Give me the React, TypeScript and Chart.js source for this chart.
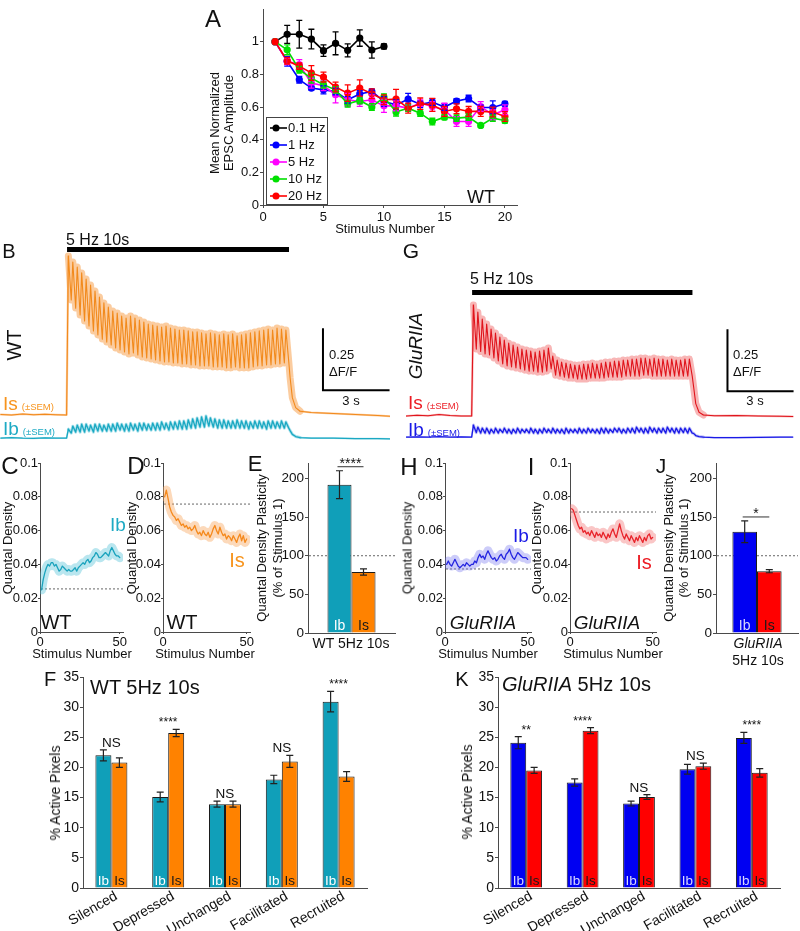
import React, { useEffect, useRef } from "react";
import { Chart, registerables } from "chart.js";

Chart.register(...registerables);

const FONT = '"Liberation Sans", Arial, Helvetica, sans-serif';
Chart.defaults.font.family = FONT;
Chart.defaults.color = "#111";

/* ======================= DATA ======================= */
// Panel A
const aSeriesLabels = ["0.1 Hz", "1 Hz", "5 Hz", "10 Hz", "20 Hz"];
const aXTicks = [0, 5, 10, 15, 20];
const aYTicks = [0, 0.2, 0.4, 0.6, 0.8, 1];
const a01Hz = [1.0, 1.045, 1.045, 1.016, 0.945, 0.99, 0.947, 1.022, 0.949, 0.971];
const a01HzErr = [0, 0.055, 0.085, 0.06, 0.035, 0.07, 0.04, 0.05, 0.05, 0.015];
const a1Hz = [1.0, 0.88, 0.767, 0.716, 0.705, 0.695, 0.644, 0.68, 0.695, 0.634, 0.613, 0.648, 0.617, 0.63, 0.6, 0.636, 0.652, 0.597, 0.597, 0.62];
const a1HzErr = [0, 0.03, 0.02, 0.012, 0.025, 0.02, 0.02, 0.02, 0.015, 0.03, 0.03, 0.035, 0.02, 0.02, 0.02, 0.015, 0.02, 0.015, 0.04, 0.015];
const a5Hz = [1.0, 0.88, 0.86, 0.746, 0.73, 0.675, 0.644, 0.634, 0.644, 0.607, 0.607, 0.593, 0.624, 0.603, 0.583, 0.511, 0.511, 0.603, 0.552, 0.583];
const a5HzErr = [0, 0.02, 0.03, 0.03, 0.03, 0.05, 0.04, 0.03, 0.03, 0.04, 0.03, 0.02, 0.02, 0.03, 0.04, 0.03, 0.03, 0.03, 0.03, 0.03];
const a10Hz = [1.0, 0.95, 0.828, 0.777, 0.736, 0.705, 0.62, 0.64, 0.6, 0.66, 0.57, 0.593, 0.562, 0.511, 0.538, 0.532, 0.538, 0.487, 0.532, 0.517];
const a10HzErr = [0, 0.03, 0.02, 0.03, 0.02, 0.02, 0.02, 0.02, 0.02, 0.02, 0.025, 0.02, 0.02, 0.02, 0.015, 0.02, 0.02, 0.01, 0.02, 0.015];
const a20Hz = [1.0, 0.883, 0.85, 0.808, 0.783, 0.722, 0.685, 0.716, 0.681, 0.644, 0.648, 0.593, 0.62, 0.613, 0.573, 0.589, 0.573, 0.573, 0.569, 0.542];
const a20HzErr = [0, 0.02, 0.02, 0.045, 0.03, 0.03, 0.05, 0.05, 0.03, 0.03, 0.06, 0.03, 0.035, 0.04, 0.03, 0.03, 0.03, 0.03, 0.03, 0.03];

// Panels B & G : ΔF/F traces (5 Hz, 10 s train)
const STIM_HZ = 5;
const stimWindow = [0, 10];
const scaleBarDF = 0.25;
const scaleBarSec = 3;
const preTimes = [-2.98, -2.5, -2.0, -1.5, -1.0, -0.5, -0.02];
const postTimes = [10.05, 10.15, 10.3, 10.5, 11, 12, 13, 14, 14.55];

const wtIsPre = [0.002, 0.0, 0.004, 0.001, 0.003, 0.001, 0.0];
const wtIsPeaks = [0.641, 0.617, 0.597, 0.573, 0.548, 0.524, 0.5, 0.476, 0.452, 0.435, 0.419, 0.411, 0.399, 0.391, 0.399, 0.391, 0.383, 0.375, 0.367, 0.363, 0.359, 0.355, 0.359, 0.351, 0.347, 0.343, 0.343, 0.339, 0.335, 0.335, 0.331, 0.327, 0.331, 0.327, 0.323, 0.327, 0.323, 0.327, 0.319, 0.323, 0.327, 0.331, 0.335, 0.339, 0.343, 0.347, 0.343, 0.351, 0.347, 0.343];
const wtIsTroughs = [0.464, 0.431, 0.403, 0.379, 0.359, 0.339, 0.323, 0.306, 0.294, 0.282, 0.27, 0.262, 0.254, 0.246, 0.25, 0.242, 0.234, 0.23, 0.226, 0.222, 0.218, 0.214, 0.214, 0.21, 0.21, 0.206, 0.206, 0.202, 0.202, 0.198, 0.198, 0.198, 0.194, 0.194, 0.194, 0.19, 0.19, 0.194, 0.19, 0.19, 0.19, 0.194, 0.198, 0.198, 0.202, 0.202, 0.206, 0.206, 0.21, 0.214];
const wtIsPost = [0.15, 0.07, 0.03, 0.015, 0.01, 0.006, 0.002, -0.002, -0.005];

const wtIbPre = [0.0, 0.002, 0.0, -0.001, 0.001, 0.0, 0.0];
const wtIbPeaks = [0.036, 0.048, 0.052, 0.056, 0.056, 0.052, 0.056, 0.056, 0.052, 0.056, 0.056, 0.06, 0.056, 0.056, 0.06, 0.056, 0.06, 0.06, 0.056, 0.06, 0.06, 0.065, 0.06, 0.065, 0.065, 0.069, 0.069, 0.073, 0.077, 0.081, 0.085, 0.089, 0.081, 0.077, 0.073, 0.073, 0.069, 0.069, 0.073, 0.069, 0.069, 0.065, 0.069, 0.069, 0.065, 0.069, 0.069, 0.065, 0.069, 0.065];
const wtIbTroughs = [0.02, 0.024, 0.024, 0.024, 0.028, 0.024, 0.028, 0.028, 0.028, 0.028, 0.028, 0.032, 0.028, 0.028, 0.032, 0.028, 0.032, 0.032, 0.032, 0.032, 0.032, 0.036, 0.032, 0.036, 0.036, 0.036, 0.036, 0.04, 0.04, 0.044, 0.044, 0.048, 0.044, 0.04, 0.04, 0.04, 0.04, 0.04, 0.04, 0.04, 0.036, 0.04, 0.04, 0.04, 0.036, 0.04, 0.04, 0.04, 0.04, 0.04];
const wtIbPost = [0.03, 0.015, 0.006, 0.002, 0.0, 0.0, -0.002, -0.002, -0.003];

const gIsPre = [0.0, 0.003, 0.001, 0.006, 0.002, 0.0, 0.0];
const gIsPeaks = [0.448, 0.419, 0.391, 0.371, 0.351, 0.335, 0.319, 0.306, 0.294, 0.286, 0.278, 0.27, 0.266, 0.262, 0.258, 0.262, 0.266, 0.274, 0.242, 0.226, 0.218, 0.214, 0.21, 0.206, 0.206, 0.21, 0.21, 0.214, 0.21, 0.214, 0.218, 0.218, 0.222, 0.222, 0.226, 0.226, 0.23, 0.23, 0.234, 0.234, 0.23, 0.234, 0.23, 0.23, 0.226, 0.23, 0.226, 0.226, 0.23, 0.23];
const gIsTroughs = [0.27, 0.26, 0.25, 0.246, 0.234, 0.222, 0.21, 0.202, 0.198, 0.194, 0.19, 0.185, 0.181, 0.181, 0.177, 0.177, 0.181, 0.19, 0.165, 0.161, 0.157, 0.153, 0.153, 0.149, 0.149, 0.149, 0.153, 0.153, 0.153, 0.153, 0.157, 0.157, 0.157, 0.157, 0.161, 0.161, 0.161, 0.161, 0.165, 0.165, 0.161, 0.161, 0.161, 0.161, 0.161, 0.161, 0.161, 0.161, 0.161, 0.161];
const gIsPost = [0.12, 0.05, 0.015, 0.004, 0.001, 0.002, 0.0, -0.001, -0.002];

const gIbPre = [0.0, 0.001, 0.0, 0.002, 0.0, 0.001, 0.0];
const gIbPeaks = [0.048, 0.04, 0.036, 0.036, 0.032, 0.036, 0.032, 0.036, 0.032, 0.032, 0.036, 0.032, 0.032, 0.036, 0.032, 0.032, 0.036, 0.032, 0.036, 0.032, 0.032, 0.036, 0.032, 0.032, 0.036, 0.032, 0.036, 0.032, 0.032, 0.036, 0.036, 0.032, 0.036, 0.036, 0.032, 0.036, 0.036, 0.04, 0.036, 0.036, 0.04, 0.036, 0.036, 0.036, 0.04, 0.036, 0.036, 0.036, 0.036, 0.036];
const gIbTroughs = [0.018, 0.016, 0.016, 0.014, 0.016, 0.016, 0.018, 0.016, 0.014, 0.016, 0.016, 0.018, 0.016, 0.016, 0.014, 0.016, 0.018, 0.016, 0.016, 0.016, 0.014, 0.016, 0.018, 0.016, 0.016, 0.016, 0.018, 0.016, 0.014, 0.016, 0.016, 0.018, 0.02, 0.016, 0.016, 0.018, 0.016, 0.02, 0.016, 0.016, 0.02, 0.016, 0.018, 0.016, 0.02, 0.016, 0.016, 0.018, 0.016, 0.016];
const gIbPost = [0.015, 0.006, 0.002, 0.0, -0.002, -0.002, -0.001, 0.0, 0.0];

// Panels C, D, H, I : quantal density per stimulus (stimulus 1..50)
const qdXTicks = [0, 50];
const qdYTicks = [0, 0.02, 0.04, 0.06, 0.08, 0.1];
const qdWtIb = [0.025, 0.031, 0.035, 0.038, 0.04, 0.039, 0.041, 0.041, 0.039, 0.04, 0.038, 0.036, 0.037, 0.039, 0.038, 0.037, 0.036, 0.037, 0.036, 0.036, 0.037, 0.038, 0.036, 0.038, 0.039, 0.04, 0.041, 0.04, 0.042, 0.043, 0.041, 0.042, 0.044, 0.045, 0.047, 0.046, 0.044, 0.044, 0.045, 0.046, 0.047, 0.046, 0.045, 0.048, 0.05, 0.048, 0.046, 0.045, 0.045, 0.044];
const qdWtIs = [0.08, 0.084, 0.079, 0.074, 0.071, 0.069, 0.068, 0.066, 0.067, 0.065, 0.063, 0.064, 0.062, 0.063, 0.061, 0.062, 0.06, 0.061, 0.063, 0.06, 0.058, 0.059, 0.057, 0.06, 0.058, 0.057, 0.059, 0.056, 0.058, 0.061, 0.063, 0.06, 0.058, 0.062, 0.059, 0.057, 0.058, 0.055, 0.057, 0.056, 0.054, 0.057, 0.055, 0.053, 0.056, 0.058, 0.054, 0.057, 0.053, 0.055];
const qdGIb = [0.04, 0.042, 0.04, 0.039, 0.041, 0.043, 0.041, 0.039, 0.038, 0.039, 0.04, 0.039, 0.041, 0.04, 0.039, 0.04, 0.04, 0.042, 0.041, 0.044, 0.046, 0.044, 0.045, 0.043, 0.046, 0.048, 0.046, 0.044, 0.043, 0.044, 0.042, 0.043, 0.045, 0.046, 0.044, 0.043, 0.046, 0.047, 0.049, 0.046, 0.044, 0.043, 0.045, 0.047, 0.046, 0.045, 0.044, 0.044, 0.044, 0.043];
const qdGIs = [0.073, 0.072, 0.069, 0.066, 0.063, 0.061, 0.062, 0.059, 0.06, 0.058, 0.059, 0.057, 0.06, 0.058, 0.056, 0.059, 0.057, 0.058, 0.056, 0.059, 0.057, 0.055, 0.058, 0.056, 0.059, 0.061, 0.058, 0.056, 0.06, 0.064, 0.06, 0.057, 0.055, 0.058, 0.056, 0.054, 0.057, 0.055, 0.053, 0.056, 0.054, 0.057, 0.055, 0.053, 0.056, 0.054, 0.057, 0.058, 0.055, 0.056];
const qdWtIbStim1 = 0.0255;
const qdWtIsStim1 = 0.0757;
const qdGIbStim1 = 0.0373;
const qdGIsStim1 = 0.071;

// Panels E, J : quantal density plasticity (% of stimulus 1)
const plastYTicks = [0, 50, 100, 150, 200];
const plastRef = 100;
const eIb = [192];
const eIbErr = [18];
const eIs = [79];
const eIsErr = [4];
const eSig = "****";
const jIb = [131];
const jIbErr = [14];
const jIs = [80];
const jIsErr = [2];
const jSig = "*";

// Panels F, K : % active pixels
const categories = ["Silenced", "Depressed", "Unchanged", "Facilitated", "Recruited"];
const pixYTicks = [0, 5, 10, 15, 20, 25, 30, 35];
const fIb = [22.0, 15.1, 13.9, 18.0, 30.9];
const fIbErr = [0.9, 0.8, 0.5, 0.7, 1.7];
const fIs = [20.8, 25.7, 13.9, 21.0, 18.5];
const fIsErr = [0.8, 0.6, 0.5, 1.0, 0.8];
const fSig = ["NS", "****", "NS", "NS", "****"];
const kIb = [24.1, 17.5, 14.0, 19.7, 24.9];
const kIbErr = [1.0, 0.6, 0.4, 0.8, 0.9];
const kIs = [19.5, 26.1, 15.1, 20.2, 19.1];
const kIsErr = [0.5, 0.5, 0.4, 0.5, 0.7];
const kSig = ["**", "****", "NS", "NS", "****"];

/* ======================= STYLE ======================= */
const AX = "#4a4a4a";
const aColors = ["#000000", "#0000ff", "#ff00ff", "#00e000", "#ff0000"];
const TEAL = "#109fb9";
const ORANGE = "#ff8200";
const BLUE = "#0000f2";
const RED = "#ff0000";
const TEAL_T = "#1eaac4";
const ORANGE_T = "#f7941d";
const RED_T = "#ec1c24";
const BLUE_T = "#1a1ae6";

/* ======================= HELPERS ======================= */
type Box = [number, number, number, number];
type Area = [number, number, number, number];

function fitScales(box: Box, area: Area) {
  const [bx, by, bw, bh] = box;
  const [L, T, R, B] = area;
  const yW = L - bx;
  const xH = by + bh - B;
  const zero = (s: any) => {
    s.paddingLeft = 0;
    s.paddingRight = 0;
    s.paddingTop = 0;
    s.paddingBottom = 0;
  };
  return {
    padding: { left: 0, top: T - by, right: bx + bw - R, bottom: 0 },
    afterFitY: (s: any) => {
      s.width = yW;
      zero(s);
    },
    afterFitX: (s: any) => {
      s.height = xH;
      zero(s);
    },
  };
}

function linAxis(min: number, max: number, ticks: number[], size: number, afterFit: any, pad = 1, tl = 3) {
  return {
    type: "linear",
    min,
    max,
    border: { display: true, color: AX, width: 1 },
    grid: { display: true, drawOnChartArea: false, drawTicks: true, tickLength: tl, color: AX },
    ticks: { font: { size }, color: "#111", padding: pad, autoSkip: false, maxRotation: 0, callback: (v: any) => String(v) },
    afterBuildTicks: (s: any) => {
      s.ticks = ticks.map((v) => ({ value: v }));
    },
    afterFit,
  };
}

const common = {
  responsive: false,
  maintainAspectRatio: false,
  animation: false,
  devicePixelRatio: 1,
  events: [] as any[],
};
const noLegend = { legend: { display: false }, tooltip: { enabled: false } };

function errBarsPlugin(errs: (number[] | null)[], colors: string[], cap = 6, lw = 1.3) {
  return {
    id: "errBars",
    afterDatasetsDraw(chart: any) {
      const { ctx } = chart;
      ctx.save();
      errs.forEach((err, di) => {
        if (!err) return;
        const meta = chart.getDatasetMeta(di);
        const ys = chart.scales[meta.yAxisID];
        const ds = chart.data.datasets[di];
        ctx.strokeStyle = colors[di];
        ctx.lineWidth = lw;
        meta.data.forEach((el: any, j: number) => {
          const raw = ds.data[j];
          const v = typeof raw === "number" ? raw : raw.y;
          const e = err[j];
          if (!e) return;
          const y1 = ys.getPixelForValue(v + e);
          const y2 = ys.getPixelForValue(v - e);
          const x = el.x;
          ctx.beginPath();
          ctx.moveTo(x, y1);
          ctx.lineTo(x, y2);
          ctx.moveTo(x - cap / 2, y1);
          ctx.lineTo(x + cap / 2, y1);
          ctx.moveTo(x - cap / 2, y2);
          ctx.lineTo(x + cap / 2, y2);
          ctx.stroke();
        });
      });
      ctx.restore();
    },
  };
}

function refLinePlugin(value: number) {
  return {
    id: "refLine",
    beforeDatasetsDraw(chart: any) {
      const { ctx, chartArea } = chart;
      const y = chart.scales.y.getPixelForValue(value);
      ctx.save();
      ctx.setLineDash([2, 2]);
      ctx.strokeStyle = "#666";
      ctx.lineWidth = 1;
      ctx.beginPath();
      ctx.moveTo(chartArea.left + 1, y);
      ctx.lineTo(chartArea.right, y);
      ctx.stroke();
      ctx.restore();
    },
  };
}

function inBarPlugin(texts: string[], colors: string[], size: number) {
  return {
    id: "inBar",
    afterDatasetsDraw(chart: any) {
      const { ctx, chartArea } = chart;
      ctx.save();
      ctx.font = `${size}px ${FONT}`;
      ctx.textAlign = "center";
      ctx.textBaseline = "alphabetic";
      texts.forEach((t, di) => {
        ctx.fillStyle = colors[di];
        chart.getDatasetMeta(di).data.forEach((el: any) => {
          ctx.fillText(t, el.x, chartArea.bottom - 3);
        });
      });
      ctx.restore();
    },
  };
}

function sigPlugin(labels: string[], vals: number[][], errs: number[][]) {
  return {
    id: "sig",
    afterDatasetsDraw(chart: any) {
      const { ctx } = chart;
      const ys = chart.scales.y;
      ctx.save();
      ctx.textAlign = "center";
      ctx.textBaseline = "alphabetic";
      ctx.fillStyle = "#111";
      labels.forEach((lab, j) => {
        let top = -Infinity;
        let xs = 0;
        vals.forEach((arr, di) => {
          top = Math.max(top, arr[j] + errs[di][j]);
          xs += chart.getDatasetMeta(di).data[j].x;
        });
        const x = xs / vals.length;
        const y = ys.getPixelForValue(top);
        ctx.font = `${lab.includes("*") ? 12 : 13.5}px ${FONT}`;
        ctx.fillText(lab, x, y - 3);
      });
      ctx.restore();
    },
  };
}

function bracketPlugin(text: string, vals: number[], errs: number[]) {
  return {
    id: "bracket",
    afterDatasetsDraw(chart: any) {
      const { ctx } = chart;
      const ys = chart.scales.y;
      const top = Math.max(vals[0] + errs[0], vals[1] + errs[1]);
      const y = ys.getPixelForValue(top) - 4;
      const x0 = chart.getDatasetMeta(0).data[0].x - 2;
      const x1 = chart.getDatasetMeta(1).data[0].x;
      ctx.save();
      ctx.strokeStyle = "#333";
      ctx.lineWidth = 1;
      ctx.beginPath();
      ctx.moveTo(x0, y);
      ctx.lineTo(x1, y);
      ctx.stroke();
      ctx.font = `14px ${FONT}`;
      ctx.textAlign = "center";
      ctx.textBaseline = "alphabetic";
      ctx.fillStyle = "#111";
      ctx.fillText(text, (x0 + x1) / 2, y + 1.5);
      ctx.restore();
    },
  };
}

function stimBarPlugin(t0: number, t1: number, dy: number) {
  return {
    id: "stimBar",
    afterDraw(chart: any) {
      const { ctx, chartArea } = chart;
      const xs = chart.scales.x;
      const a = xs.getPixelForValue(t0);
      const b = xs.getPixelForValue(t1);
      ctx.save();
      ctx.fillStyle = "#000";
      ctx.fillRect(a, chartArea.top + dy, b - a, 5);
      ctx.restore();
    },
  };
}

function scaleBarPlugin(tLeft: number, vBottom: number) {
  return {
    id: "scaleBar",
    afterDraw(chart: any) {
      const { ctx } = chart;
      const xs = chart.scales.x;
      const ys = chart.scales.y;
      const x0 = xs.getPixelForValue(tLeft);
      const x1 = xs.getPixelForValue(tLeft + scaleBarSec);
      const y0 = ys.getPixelForValue(vBottom);
      const y1 = ys.getPixelForValue(vBottom + scaleBarDF);
      ctx.save();
      ctx.strokeStyle = "#000";
      ctx.lineWidth = 2;
      ctx.beginPath();
      ctx.moveTo(x0, y1);
      ctx.lineTo(x0, y0);
      ctx.lineTo(x1, y0);
      ctx.stroke();
      ctx.restore();
    },
  };
}

function legendBoxPlugin() {
  return {
    id: "legendBox",
    afterDraw(chart: any) {
      const { ctx, chartArea } = chart;
      const ds = chart.data.datasets;
      const w = 61;
      const h = 87;
      const x0 = chartArea.left + 3;
      const y0 = chartArea.bottom - 1 - h;
      ctx.save();
      ctx.fillStyle = "#fff";
      ctx.fillRect(x0, y0, w, h);
      ctx.strokeStyle = "#444";
      ctx.lineWidth = 1;
      ctx.strokeRect(Math.round(x0) + 0.5, Math.round(y0) + 0.5, w, h);
      ds.forEach((d: any, i: number) => {
        const yy = y0 + 11 + i * 17;
        ctx.strokeStyle = d.borderColor;
        ctx.lineWidth = 1.6;
        ctx.beginPath();
        ctx.moveTo(x0 + 4, yy);
        ctx.lineTo(x0 + 21, yy);
        ctx.stroke();
        ctx.fillStyle = d.borderColor;
        ctx.beginPath();
        ctx.arc(x0 + 10, yy, 3.5, 0, Math.PI * 2);
        ctx.fill();
        ctx.fillStyle = "#111";
        ctx.font = `13px ${FONT}`;
        ctx.textAlign = "left";
        ctx.textBaseline = "middle";
        ctx.fillText(d.label, x0 + 22, yy + 0.5);
      });
      ctx.restore();
    },
  };
}

/* ======================= CONFIG BUILDERS ======================= */
function configA(box: Box, area: Area) {
  const f = fitScales(box, area);
  const series = [a01Hz, a1Hz, a5Hz, a10Hz, a20Hz];
  const errs = [a01HzErr, a1HzErr, a5HzErr, a10HzErr, a20HzErr];
  return {
    type: "line",
    data: {
      datasets: series.map((vals, i) => ({
        label: aSeriesLabels[i],
        data: vals.map((v, j) => ({ x: j + 1, y: v })),
        borderColor: aColors[i],
        backgroundColor: aColors[i],
        pointBackgroundColor: aColors[i],
        pointBorderWidth: 0,
        pointRadius: 3.6,
        borderWidth: 1.6,
        tension: 0,
        order: series.length - i,
      })),
    },
    options: {
      ...common,
      layout: { padding: f.padding },
      plugins: noLegend,
      scales: {
        x: linAxis(0, 21, aXTicks, 13, f.afterFitX, 2, 3),
        y: linAxis(0, 1.2, aYTicks, 13, f.afterFitY, 1, 3),
      },
    },
    plugins: [errBarsPlugin(errs, aColors, 6, 1.3), legendBoxPlugin()],
  };
}

function buildTrace(pre: number[], peaks: number[], troughs: number[], post: number[]) {
  const pts: { x: number; y: number }[] = [];
  preTimes.forEach((t, i) => pts.push({ x: t, y: pre[i] }));
  for (let i = 0; i < peaks.length; i++) {
    const t0 = i / STIM_HZ;
    pts.push({ x: t0 + 0.06, y: peaks[i] });
    pts.push({ x: t0 + 0.19, y: troughs[i] });
  }
  postTimes.forEach((t, i) => pts.push({ x: t, y: post[i] }));
  return pts;
}

// thinner SEM band outside the stimulation window
const bandWidth = (inside: number, outside: number) => (c: any) =>
  c.p0.parsed.x < stimWindow[0] || c.p1.parsed.x > stimWindow[1] + 0.6 ? outside : inside;

function configTrace(
  xr: number[],
  yIs: number[],
  yIb: number[],
  isPts: any[],
  ibPts: any[],
  st: { isLine: string; isBand: string; ibLine: string; ibBand: string },
  scaleAt: number[]
) {
  const base = { pointRadius: 0, tension: 0, fill: false, borderJoinStyle: "round", borderCapStyle: "round" };
  return {
    type: "line",
    data: {
      datasets: [
        { ...base, data: isPts, yAxisID: "y", borderColor: st.isBand, borderWidth: 7, order: 4, segment: { borderWidth: bandWidth(7, 2.2) } },
        { ...base, data: ibPts, yAxisID: "y2", borderColor: st.ibBand, borderWidth: 3, order: 3, segment: { borderWidth: bandWidth(3, 1.8) } },
        { ...base, data: isPts, yAxisID: "y", borderColor: st.isLine, borderWidth: 1.1, order: 2 },
        { ...base, data: ibPts, yAxisID: "y2", borderColor: st.ibLine, borderWidth: 1.3, order: 1 },
      ],
    },
    options: {
      ...common,
      plugins: noLegend,
      layout: { padding: 0 },
      scales: {
        x: { type: "linear", min: xr[0], max: xr[1], display: false },
        y: { type: "linear", min: yIs[0], max: yIs[1], display: false },
        y2: { type: "linear", min: yIb[0], max: yIb[1], display: false, position: "left" },
      },
    },
    plugins: [stimBarPlugin(stimWindow[0], stimWindow[1], 18), scaleBarPlugin(scaleAt[0], scaleAt[1])],
  };
}

function configQD(box: Box, area: Area, vals: number[], color: string, band: string, ref: number) {
  const f = fitScales(box, area);
  const pts = vals.map((v, i) => ({ x: i + 1, y: v }));
  const base = { pointRadius: 0, tension: 0, fill: false, borderJoinStyle: "round", borderCapStyle: "round" };
  return {
    type: "line",
    data: {
      datasets: [
        { ...base, data: pts, borderColor: band, borderWidth: 9, order: 2 },
        { ...base, data: pts, borderColor: color, borderWidth: 1.3, order: 1 },
      ],
    },
    options: {
      ...common,
      layout: { padding: f.padding },
      plugins: noLegend,
      scales: {
        x: linAxis(0, 52, qdXTicks, 13, f.afterFitX, 1, 2),
        y: linAxis(0, 0.1, qdYTicks, 13, f.afterFitY, 0, 2),
      },
    },
    plugins: [refLinePlugin(ref)],
  };
}

function configPlast(box: Box, area: Area, ib: number[], ibErr: number[], is: number[], isErr: number[], cIb: string, cIs: string, txtIb: string, sig: string, catPct: number) {
  const f = fitScales(box, area);
  const bar = { borderColor: "#1a1a1a", borderWidth: 1, categoryPercentage: catPct, barPercentage: 1 };
  return {
    type: "bar",
    data: {
      labels: [""],
      datasets: [
        { ...bar, label: "Ib", data: ib, backgroundColor: cIb },
        { ...bar, label: "Is", data: is, backgroundColor: cIs },
      ],
    },
    options: {
      ...common,
      layout: { padding: f.padding },
      plugins: noLegend,
      scales: {
        x: {
          type: "category",
          border: { display: true, color: AX, width: 1 },
          grid: { display: false, drawTicks: false },
          ticks: { display: false },
          afterFit: f.afterFitX,
        },
        y: linAxis(0, 220, plastYTicks, 13.5, f.afterFitY, 1, 3),
      },
    },
    plugins: [
      refLinePlugin(plastRef),
      errBarsPlugin([ibErr, isErr], ["#222", "#222"], 7, 1.2),
      inBarPlugin(["Ib", "Is"], [txtIb, "#1a1a1a"], 14),
      bracketPlugin(sig, [ib[0], is[0]], [ibErr[0], isErr[0]]),
    ],
  };
}

function configPix(box: Box, area: Area, ib: number[], ibErr: number[], is: number[], isErr: number[], cIb: string, cIs: string, txtIb: string, sig: string[]) {
  const f = fitScales(box, area);
  const bar = { borderColor: "#1a1a1a", borderWidth: 1, categoryPercentage: 0.563, barPercentage: 1 };
  return {
    type: "bar",
    data: {
      labels: categories,
      datasets: [
        { ...bar, label: "Ib", data: ib, backgroundColor: cIb },
        { ...bar, label: "Is", data: is, backgroundColor: cIs },
      ],
    },
    options: {
      ...common,
      layout: { padding: f.padding },
      plugins: noLegend,
      scales: {
        x: {
          type: "category",
          border: { display: true, color: AX, width: 1 },
          grid: { display: false, drawTicks: false, tickLength: 0 },
          ticks: { font: { size: 14 }, color: "#111", minRotation: 30, maxRotation: 30, autoSkip: false, padding: 0, labelOffset: 5 },
          afterFit: f.afterFitX,
        },
        y: linAxis(0, 35, pixYTicks, 14, f.afterFitY, 1, 3),
      },
    },
    plugins: [
      errBarsPlugin([ibErr, isErr], ["#222", "#222"], 7, 1.2),
      inBarPlugin(["Ib", "Is"], [txtIb, "#1a1a1a"], 13.5),
      sigPlugin(sig, [ib, is], [ibErr, isErr]),
    ],
  };
}

/* ======================= COMPONENTS ======================= */
function ChartCanvas({ box, make }: { box: Box; make: () => any }) {
  const ref = useRef<HTMLCanvasElement | null>(null);
  useEffect(() => {
    if (!ref.current) return;
    const chart = new Chart(ref.current, make());
    return () => chart.destroy();
  }, []);
  const [x, y, w, h] = box;
  return (
    <div style={{ position: "absolute", left: x, top: y, width: w, height: h }}>
      <canvas ref={ref} width={w} height={h} style={{ width: w, height: h }} />
    </div>
  );
}

function T({ x, y, s = 13, c = "#111", r = 0, it = false, a = "c", children }: any) {
  const tx = a === "l" ? "0%" : a === "r" ? "-100%" : "-50%";
  return (
    <div
      style={{
        position: "absolute",
        left: x,
        top: y,
        transform: `translate(${tx}, -50%) rotate(${r}deg)`,
        fontSize: s,
        color: c,
        fontStyle: it ? "italic" : "normal",
        fontFamily: FONT,
        lineHeight: 1,
        whiteSpace: "nowrap",
      }}
    >
      {children}
    </div>
  );
}

const SEM = { fontSize: 9.5, marginLeft: 4 };

export default function App() {
  const boxA: Box = [195, 0, 330, 236];
  const boxB: Box = [0, 229, 390, 216];
  const boxG: Box = [406, 272, 390, 173];
  const boxC: Box = [2, 455, 126, 193];
  const boxD: Box = [125, 455, 130, 193];
  const boxE: Box = [270, 455, 130, 190];
  const boxH: Box = [405, 455, 130, 193];
  const boxI: Box = [530, 455, 130, 193];
  const boxJ: Box = [678, 455, 122, 190];
  const boxF: Box = [15, 670, 365, 261];
  const boxK: Box = [430, 670, 370, 261];

  return (
    <div style={{ position: "absolute", left: 0, top: 0, width: 800, height: 931, background: "#fff", overflow: "hidden", fontFamily: FONT }}>
      <ChartCanvas box={boxA} make={() => configA(boxA, [263, 9, 517, 205])} />
      <ChartCanvas
        box={boxB}
        make={() =>
          configTrace(
            [-3.02, 14.55],
            [-0.121, 0.75],
            [-0.028, 0.843],
            buildTrace(wtIsPre, wtIsPeaks, wtIsTroughs, wtIsPost),
            buildTrace(wtIbPre, wtIbPeaks, wtIbTroughs, wtIbPost),
            { isLine: "#f28a1c", isBand: "rgba(249,170,95,0.6)", ibLine: "#1aa8c2", ibBand: "rgba(70,190,212,0.45)" },
            [11.53, 0.1]
          )
        }
      />
      <ChartCanvas
        box={boxG}
        make={() =>
          configTrace(
            [-3.0, 14.7],
            [-0.117, 0.581],
            [-0.032, 0.665],
            buildTrace(gIsPre, gIsPeaks, gIsTroughs, gIsPost),
            buildTrace(gIbPre, gIbPeaks, gIbTroughs, gIbPost),
            { isLine: "#e0141c", isBand: "rgba(242,110,110,0.5)", ibLine: "#1a1ae6", ibBand: "rgba(100,100,240,0.4)" },
            [11.59, 0.1]
          )
        }
      />
      <ChartCanvas box={boxC} make={() => configQD(boxC, [40, 463, 123, 632], qdWtIb, "#1aa3bd", "rgba(70,188,212,0.38)", qdWtIbStim1)} />
      <ChartCanvas box={boxD} make={() => configQD(boxD, [163, 463, 250, 632], qdWtIs, "#f5891c", "rgba(249,165,90,0.42)", qdWtIsStim1)} />
      <ChartCanvas box={boxH} make={() => configQD(boxH, [445, 463, 531, 632], qdGIb, "#2424e0", "rgba(110,110,238,0.35)", qdGIbStim1)} />
      <ChartCanvas box={boxI} make={() => configQD(boxI, [570, 463, 656, 632], qdGIs, "#e8232a", "rgba(242,105,105,0.38)", qdGIsStim1)} />
      <ChartCanvas box={boxE} make={() => configPlast(boxE, [308, 463, 395, 633], eIb, eIbErr, eIs, eIsErr, TEAL, ORANGE, "#ffffff", eSig, 0.552)} />
      <ChartCanvas box={boxJ} make={() => configPlast(boxJ, [716, 463, 798, 633], jIb, jIbErr, jIs, jIsErr, BLUE, RED, "#d8d8ff", jSig, 0.6)} />
      <ChartCanvas box={boxF} make={() => configPix(boxF, [83, 677, 367, 888], fIb, fIbErr, fIs, fIsErr, TEAL, ORANGE, "#ffffff", fSig)} />
      <ChartCanvas box={boxK} make={() => configPix(boxK, [498, 677, 780, 888], kIb, kIbErr, kIs, kIsErr, BLUE, RED, "#d8d8ff", kSig)} />

      {/* Panel A texts */}
      <T x={213} y={19} s={24}>A</T>
      <T x={214} y={123} r={-90}>Mean Normalized</T>
      <T x={228} y={123} r={-90}>EPSC Amplitude</T>
      <T x={385} y={228}>Stimulus Number</T>
      <T x={481} y={197} s={18}>WT</T>

      {/* Panel B texts */}
      <T x={9} y={251} s={20}>B</T>
      <T x={66} y={240} s={16} a="l">5 Hz 10s</T>
      <T x={14} y={345} s={20} r={-90}>WT</T>
      <T x={3} y={403} s={19} a="l" c={ORANGE_T}>Is<span style={SEM}>(±SEM)</span></T>
      <T x={3} y={428} s={19} a="l" c={TEAL_T}>Ib<span style={SEM}>(±SEM)</span></T>
      <T x={329} y={354} a="l">0.25</T>
      <T x={329} y={371} a="l">ΔF/F</T>
      <T x={351} y={400}>3 s</T>

      {/* Panel G texts */}
      <T x={411} y={250} s={21}>G</T>
      <T x={470} y={279} s={16} a="l">5 Hz 10s</T>
      <T x={415} y={346} s={19} r={-90} it>GluRIIA</T>
      <T x={408} y={402} s={19} a="l" c={RED_T}>Is<span style={SEM}>(±SEM)</span></T>
      <T x={408} y={429} s={19} a="l" c={BLUE_T}>Ib<span style={SEM}>(±SEM)</span></T>
      <T x={733} y={354} a="l">0.25</T>
      <T x={733} y={371} a="l">ΔF/F</T>
      <T x={755} y={400}>3 s</T>

      {/* Panels C, D, E */}
      <T x={10} y={466} s={24}>C</T>
      <T x={7} y={548} r={-90}>Quantal Density</T>
      <T x={82} y={653}>Stimulus Number</T>
      <T x={118} y={524} s={19} c={TEAL_T}>Ib</T>
      <T x={56} y={622} s={20}>WT</T>

      <T x={136} y={466} s={24}>D</T>
      <T x={131} y={548} r={-90}>Quantal Density</T>
      <T x={205} y={653}>Stimulus Number</T>
      <T x={237} y={560} s={20} c={ORANGE_T}>Is</T>
      <T x={182} y={622} s={20}>WT</T>

      <T x={255} y={464} s={22}>E</T>
      <T x={261} y={548} r={-90}>Quantal Density Plasticity</T>
      <T x={277} y={548} r={-90}>(% of Stimulus 1)</T>
      <T x={351} y={643} s={14}>WT 5Hz 10s</T>

      {/* Panels H, I, J */}
      <T x={409} y={467} s={24}>H</T>
      <T x={407} y={548} r={-90}>Quantal Density</T>
      <T x={488} y={653}>Stimulus Number</T>
      <T x={521} y={535} s={19} c={BLUE_T}>Ib</T>
      <T x={483} y={622} s={19} it>GluRIIA</T>

      <T x={531} y={467} s={24}>I</T>
      <T x={536} y={548} r={-90}>Quantal Density</T>
      <T x={613} y={653}>Stimulus Number</T>
      <T x={644} y={562} s={20} c={RED_T}>Is</T>
      <T x={607} y={622} s={19} it>GluRIIA</T>

      <T x={661} y={465} s={21}>J</T>
      <T x={668} y={548} r={-90}>Quantal Density Plasticity</T>
      <T x={683} y={548} r={-90}>(% of Stimulus 1)</T>
      <T x={758} y={643} s={14} it>GluRIIA</T>
      <T x={758} y={660} s={14}>5Hz 10s</T>

      {/* Panels F, K */}
      <T x={50} y={679} s={20}>F</T>
      <T x={90} y={687} s={20} a="l">WT 5Hz 10s</T>
      <T x={55} y={793} s={14} r={-90}>% Active Pixels</T>

      <T x={462} y={679} s={20}>K</T>
      <T x={502} y={684} s={20} a="l"><i>GluRIIA</i> 5Hz 10s</T>
      <T x={467} y={792} s={14} r={-90}>% Active Pixels</T>
    </div>
  );
}
